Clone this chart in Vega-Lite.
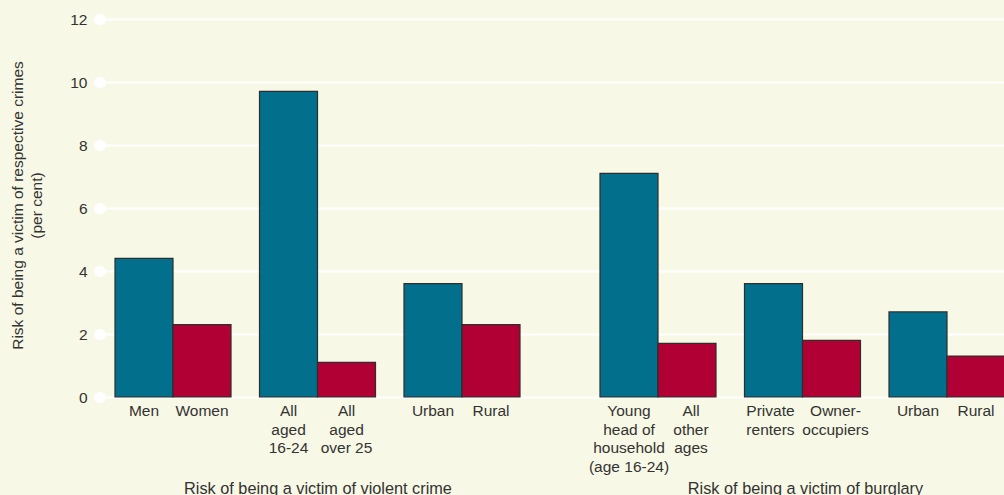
{
  "$schema": "https://vega.github.io/schema/vega-lite/v6.json",
  "background": "#f7f8e5",
  "padding": {"left": 10, "top": 12, "right": 0, "bottom": 0},
  "spacing": 0,
  "bounds": "flush",
  "config": {
    "view": {"stroke": null},
    "font": "Liberation Sans",
    "axis": {"labelFont": "Liberation Sans", "titleFont": "Liberation Sans", "titleFontWeight": "normal", "titleColor": "#333333", "labelColor": "#333333"}
  },
  "resolve": {"scale": {"x": "independent", "xOffset": "independent"}},
  "hconcat": [
    {
      "width": 435,
      "height": 378,
      "data": {"values": [
        {"pair": "Sex", "member": "a", "label": "Men", "value": 4.4},
        {"pair": "Sex", "member": "b", "label": "Women", "value": 2.3},
        {"pair": "Age", "member": "a", "label": "All|aged|16-24", "value": 9.7},
        {"pair": "Age", "member": "b", "label": "All|aged|over 25", "value": 1.1},
        {"pair": "Area1", "member": "a", "label": "Urban", "value": 3.6},
        {"pair": "Area1", "member": "b", "label": "Rural", "value": 2.3}
      ]},
      "encoding": {
        "x": {"field": "pair", "type": "nominal", "sort": null,
          "scale": {"paddingInner": 0.1972, "paddingOuter": 0.1038},
          "axis": {"title": "Risk of being a victim of violent crime", "labels": false, "ticks": false, "domain": false, "titleFontSize": 16.3, "titleY": 83}},
        "xOffset": {"field": "member", "type": "nominal", "scale": {"domain": ["a", "b"], "paddingInner": 0, "paddingOuter": 0}}
      },
      "layer": [
        {
          "mark": {"type": "bar", "stroke": "#2e2e2e", "strokeWidth": 1.2},
          "encoding": {
            "y": {"field": "value", "type": "quantitative",
              "scale": {"domain": [0, 12], "nice": false},
              "axis": {
                "title": ["Risk of being a victim of respective crimes", "(per cent)"],
                "values": [0, 2, 4, 6, 8, 10, 12],
                "grid": true, "gridColor": "#ffffff", "gridWidth": 2,
                "domain": false,
                "ticks": true, "tickColor": "#ffffff", "tickSize": 1, "tickWidth": 11, "tickCap": "round",
                "labelPadding": 12, "labelFontSize": 15.5,
                "titleFontSize": 15.5, "titleLineHeight": 19, "titleX": -75, "titleY": 186
              }},
            "color": {"field": "member", "type": "nominal", "scale": {"domain": ["a", "b"], "range": ["#02708d", "#b10034"]}, "legend": null}
          }
        },
        {
          "mark": {"type": "text", "baseline": "top", "lineBreak": "|", "dy": 7, "fontSize": 15.5, "lineHeight": 18.7, "color": "#333333"},
          "encoding": {
            "y": {"datum": 0},
            "text": {"field": "label", "type": "nominal"}
          }
        }
      ]
    },
    {
      "width": 470,
      "height": 378,
      "data": {"values": [
        {"pair": "Head", "member": "a", "label": "Young|head of|household|(age 16-24)", "value": 7.1},
        {"pair": "Head", "member": "b", "label": "All|other|ages", "value": 1.7},
        {"pair": "Tenure", "member": "a", "label": "Private|renters", "value": 3.6},
        {"pair": "Tenure", "member": "b", "label": "Owner-|occupiers", "value": 1.8},
        {"pair": "Area2", "member": "a", "label": "Urban", "value": 2.7},
        {"pair": "Area2", "member": "b", "label": "Rural", "value": 1.3}
      ]},
      "encoding": {
        "x": {"field": "pair", "type": "nominal", "sort": null,
          "scale": {"paddingInner": 0.1972, "paddingOuter": 0.2249, "align": 1},
          "axis": {"title": "Risk of being a victim of burglary", "labels": false, "ticks": false, "domain": false, "titleFontSize": 16.3, "titleY": 83, "titleX": 270}},
        "xOffset": {"field": "member", "type": "nominal", "scale": {"domain": ["a", "b"], "paddingInner": 0, "paddingOuter": 0}}
      },
      "layer": [
        {
          "mark": {"type": "bar", "stroke": "#2e2e2e", "strokeWidth": 1.2},
          "encoding": {
            "y": {"field": "value", "type": "quantitative",
              "scale": {"domain": [0, 12], "nice": false},
              "axis": {
                "title": null,
                "values": [0, 2, 4, 6, 8, 10, 12],
                "grid": true, "gridColor": "#ffffff", "gridWidth": 2,
                "domain": false, "ticks": false, "labels": false
              }},
            "color": {"field": "member", "type": "nominal", "scale": {"domain": ["a", "b"], "range": ["#02708d", "#b10034"]}, "legend": null}
          }
        },
        {
          "transform": [{"filter": "datum.pair == 'Area2' || (datum.pair == 'Head' && datum.member == 'a')"}],
          "mark": {"type": "text", "baseline": "top", "lineBreak": "|", "dy": 7, "fontSize": 15.5, "lineHeight": 18.7, "color": "#333333"},
          "encoding": {
            "y": {"datum": 0},
            "text": {"field": "label", "type": "nominal"}
          }
        },
        {
          "transform": [{"filter": "datum.pair != 'Area2' && datum.member == 'b'"}],
          "mark": {"type": "text", "baseline": "top", "lineBreak": "|", "dy": 7, "dx": 4, "fontSize": 15.5, "lineHeight": 18.7, "color": "#333333"},
          "encoding": {
            "y": {"datum": 0},
            "text": {"field": "label", "type": "nominal"}
          }
        },
        {
          "transform": [{"filter": "datum.pair == 'Tenure' && datum.member == 'a'"}],
          "mark": {"type": "text", "baseline": "top", "lineBreak": "|", "dy": 7, "dx": -3, "fontSize": 15.5, "lineHeight": 18.7, "color": "#333333"},
          "encoding": {
            "y": {"datum": 0},
            "text": {"field": "label", "type": "nominal"}
          }
        }
      ]
    }
  ]
}
